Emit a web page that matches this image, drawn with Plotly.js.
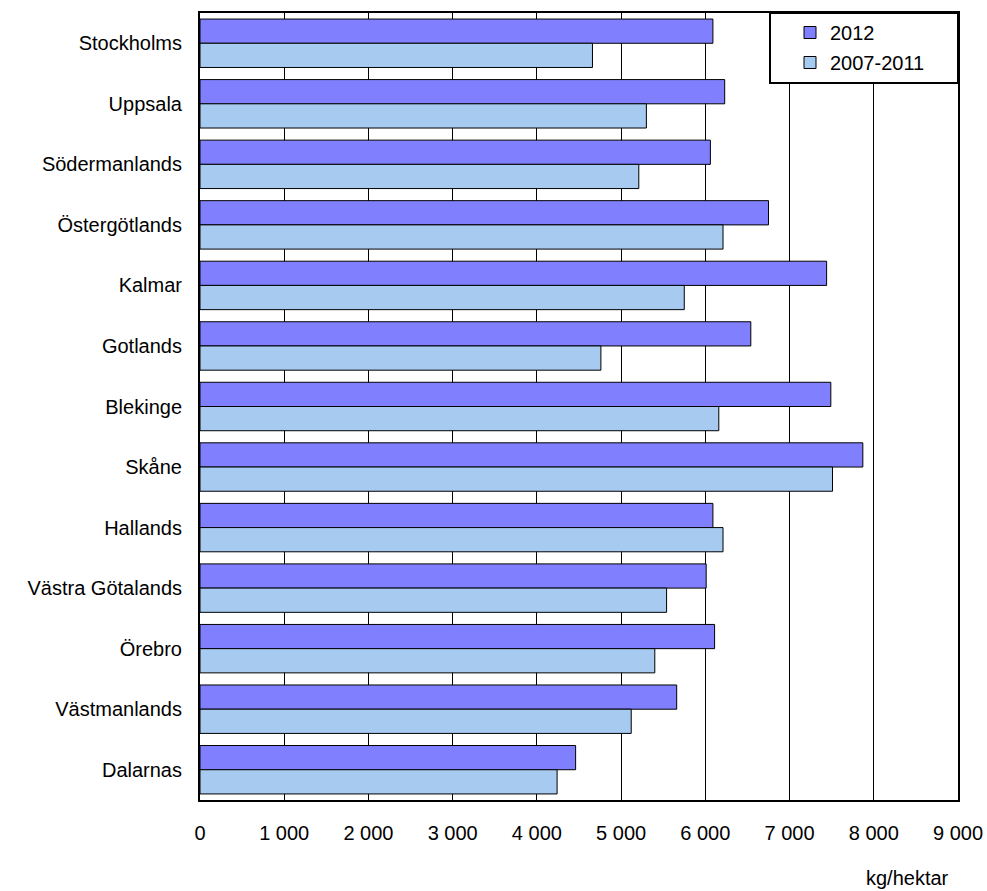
<!DOCTYPE html>
<html>
<head>
<meta charset="utf-8">
<script src="https://cdn.plot.ly/plotly-3.0.1.min.js"></script>
<style>html,body{margin:0;padding:0;background:#fff;}#chart{width:987px;height:891px;}</style>
</head>
<body>
<div id="chart"></div>
<script>
const categories = ["Stockholms","Uppsala","Södermanlands","Östergötlands","Kalmar","Gotlands","Blekinge","Skåne","Hallands","Västra Götalands","Örebro","Västmanlands","Dalarnas"];
const values2012 = [6090,6230,6060,6750,7440,6540,7490,7870,6090,6010,6110,5660,4460];
const values2007_2011 = [4660,5300,5210,6210,5750,4760,6160,7510,6210,5540,5400,5120,4240];
const seriesNames = ["2012","2007-2011"];
const xTicks = [0,1000,2000,3000,4000,5000,6000,7000,8000,9000];
const unitLabel = "kg/hektar";

const font = {family: "Liberation Sans, Arial, sans-serif", size: 20, color: "#000"};

const traces = [
  {type:"bar", orientation:"h", name:seriesNames[0], legendgroup:"a", y:categories, x:values2012,
   marker:{color:"#8080FF", line:{color:"#000", width:1}}},
  {type:"bar", orientation:"h", name:seriesNames[1], legendgroup:"b", y:categories, x:values2007_2011,
   marker:{color:"#A6CAF0", line:{color:"#000", width:1}}}
];

const L = 200, T = 13, W = 758, H = 787;
const layout = {
  width:987, height:891,
  margin:{l:L, r:29, t:T, b:91},
  paper_bgcolor:"#fff", plot_bgcolor:"#fff",
  font: font,
  separators: ", ",
  barmode:"group", bargap:0.2, bargroupgap:0,
  showlegend:true,
  legend:{x:(790-L)/W, y:1, xanchor:"left", yanchor:"top", bgcolor:"rgba(0,0,0,0)",
          borderwidth:0, font:font, traceorder:"grouped",
          itemwidth:30, tracegroupgap:1},
  xaxis:{range:[0,9000], tickvals:xTicks, tickformat:",d", showgrid:true, gridcolor:"#000", gridwidth:1,
         showline:true, linecolor:"#000", linewidth:2, mirror:true, ticks:"", zeroline:false,
         ticklabelstandoff:14, tickfont:font, fixedrange:true},
  yaxis:{autorange:"reversed", showline:true, linecolor:"#000", linewidth:2, mirror:true, ticks:"",
         ticklabelstandoff:12, tickfont:font, fixedrange:true},
  shapes:[{type:"rect", xref:"paper", yref:"paper", x0:(770-L)/W, x1:1, y0:1, y1:(800-83)/H,
           line:{color:"#000", width:2}, fillcolor:"#fff", layer:"above"}],
  annotations:[{text:unitLabel, xref:"paper", yref:"paper", x:(907-L)/W, y:-(878-800)/H,
                xanchor:"center", yanchor:"middle", showarrow:false, font:font}]
};

Plotly.newPlot("chart", traces, layout, {displayModeBar:false, staticPlot:true});
</script>
</body>
</html>
